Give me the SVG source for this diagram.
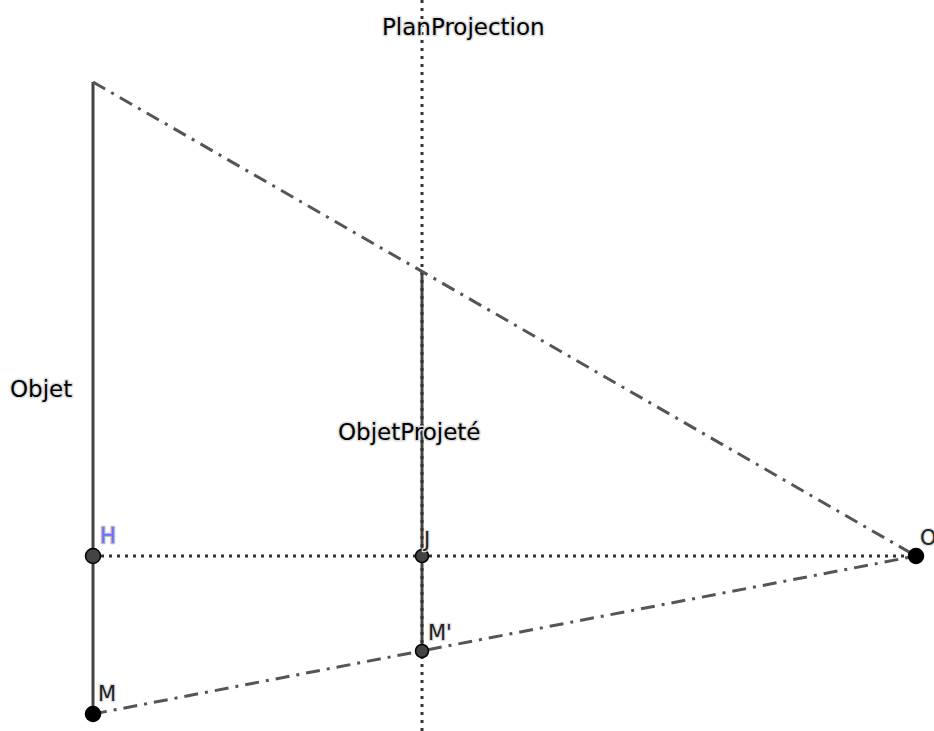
<svg xmlns="http://www.w3.org/2000/svg" width="934" height="731" viewBox="0 0 934 731">
<style>
.lbl{font-family:"DejaVu Sans",sans-serif;font-size:23px;fill:#000;stroke:#ddd;stroke-width:3px;paint-order:stroke;stroke-linejoin:round}
.pl{font-family:"DejaVu Sans",sans-serif;font-size:21px;fill:#222;stroke:#ddd;stroke-width:2.5px;paint-order:stroke;stroke-linejoin:round}
.dot{stroke:#333;stroke-width:3;stroke-dasharray:3 5;fill:none}
.dd{stroke:#555;stroke-width:3;stroke-dasharray:14 7 3 7;fill:none}
.sol{stroke:#444;stroke-width:3;fill:none}
.pt{stroke:#000;stroke-width:1.5}
</style>
<rect width="934" height="731" fill="#fff"/>
<g id="connectors">
<line class="sol" x1="93" y1="82" x2="93" y2="714"/>
<line class="sol" x1="422" y1="271" x2="422" y2="651"/>
<line class="dot" x1="422" y1="0" x2="422" y2="731"/>
<line class="dot" x1="93" y1="556" x2="916" y2="556"/>
<line class="dd" x1="93" y1="82" x2="916" y2="556"/>
<line class="dd" x1="93" y1="714" x2="916" y2="556"/>
</g>
<g id="labels">
<text class="lbl" x="382" y="35">PlanProjection</text>
<text class="lbl" x="10" y="397">Objet</text>
<text class="lbl" x="338" y="440">ObjetProjeté</text>
</g>
<g id="H"><circle class="pt" cx="93" cy="556" r="7.5" fill="#444"/><text class="pl" x="100" y="543" style="fill:#6f6fff;stroke:#bbb">H</text></g>
<g id="J"><circle class="pt" cx="422" cy="556" r="6.5" fill="#444"/><text class="pl" x="424" y="547">J</text></g>
<g id="Mp"><circle class="pt" cx="422" cy="651" r="6.5" fill="#444"/><text class="pl" x="428" y="640">M'</text></g>
<g id="M"><circle class="pt" cx="93" cy="714" r="7.5" fill="#000"/><text class="pl" x="98" y="701">M</text></g>
<g id="O"><circle class="pt" cx="916" cy="556" r="7.5" fill="#000"/><text class="pl" x="920" y="545">O</text></g>
</svg>
